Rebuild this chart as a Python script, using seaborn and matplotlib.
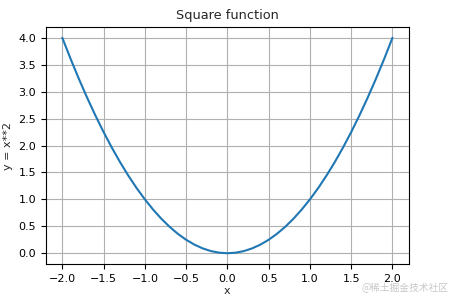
import matplotlib
matplotlib.use("Agg")
import matplotlib.pyplot as plt
import seaborn as sns
import pandas as pd

x_values = [-2.0, -1.9, -1.8, -1.7, -1.6, -1.5, -1.4, -1.3, -1.2, -1.1, -1.0,
            -0.9, -0.8, -0.7, -0.6, -0.5, -0.4, -0.3, -0.2, -0.1, 0.0,
            0.1, 0.2, 0.3, 0.4, 0.5, 0.6, 0.7, 0.8, 0.9, 1.0,
            1.1, 1.2, 1.3, 1.4, 1.5, 1.6, 1.7, 1.8, 1.9, 2.0]
y_values = [4.0, 3.61, 3.24, 2.89, 2.56, 2.25, 1.96, 1.69, 1.44, 1.21, 1.0,
            0.81, 0.64, 0.49, 0.36, 0.25, 0.16, 0.09, 0.04, 0.01, 0.0,
            0.01, 0.04, 0.09, 0.16, 0.25, 0.36, 0.49, 0.64, 0.81, 1.0,
            1.21, 1.44, 1.69, 1.96, 2.25, 2.56, 2.89, 3.24, 3.61, 4.0]
x_ticks = [-2.0, -1.5, -1.0, -0.5, 0.0, 0.5, 1.0, 1.5, 2.0]
y_ticks = [0.0, 0.5, 1.0, 1.5, 2.0, 2.5, 3.0, 3.5, 4.0]

sns.set_style("ticks")
plt.rcParams['font.family'] = ['DejaVu Sans', 'Noto Sans CJK SC']

df = pd.DataFrame({"x": x_values, "y": y_values})

fig = plt.figure(figsize=(4.58, 3.0), dpi=100)
ax = fig.add_axes([0.100, 0.12, 0.793, 0.79])
sns.lineplot(data=df, x="x", y="y", ax=ax, color="#1f77b4", linewidth=1.5)
ax.set_xticks(x_ticks)
ax.set_yticks(y_ticks)
ax.set_xticklabels([f"{t:.1f}".replace("-", "\u2212") for t in x_ticks], fontsize=8)
ax.set_yticklabels([f"{t:.1f}" for t in y_ticks], fontsize=8)
ax.set_xlim(-2.2, 2.2)
ax.set_ylim(-0.2, 4.2)
ax.grid(True, color="#b0b0b0", linewidth=0.8)
ax.set_title("Square function", fontsize=9.3)
ax.set_xlabel("x", fontsize=8, labelpad=2)
ax.set_ylabel("y = x**2", fontsize=8)
for s in ax.spines.values():
    s.set_color("black")
    s.set_linewidth(0.8)
ax.tick_params(colors="black", length=3.5, width=0.8)
fig.text(0.98, 0.04, "@稀土掘金技术社区", ha="right", va="center",
         fontsize=7, color="#c8c8c8", family=['Noto Sans CJK SC', 'DejaVu Sans'])
fig.savefig("out.png", dpi=100)
